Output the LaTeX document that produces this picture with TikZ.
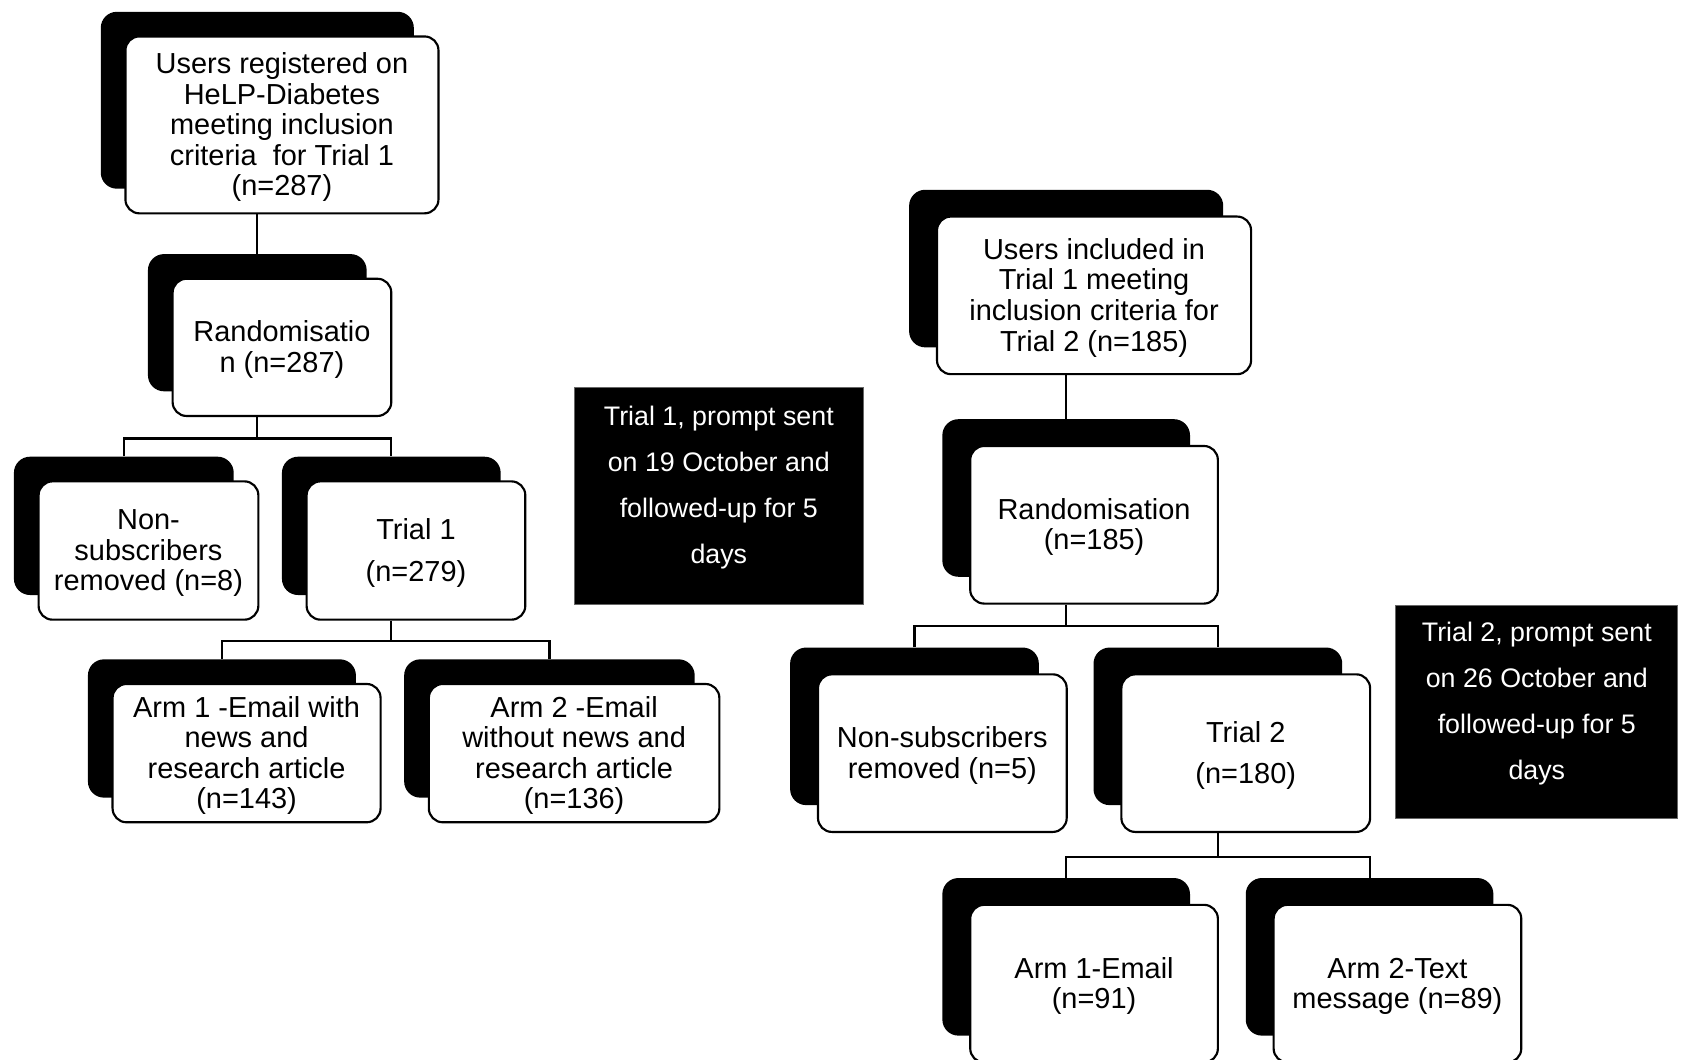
\documentclass[tikz,border=0pt]{standalone}
\usepackage{fontspec}
\setmainfont{Liberation Sans}
% card with a black backing card behind it, offset up and to the left
% #1 name, #2 cx, #3 cy, #4 width, #5 height, #6 dx, #7 dy, #8 text
\newcommand{\cardpair}[8]{%
  \node[backing, minimum width=#4pt, minimum height=#5pt] (#1S) at (#2-#6, #3-#7) {};
  \node[card, minimum width=#4pt, minimum height=#5pt] (#1) at (#2,#3)
    {\raisebox{-3.5pt}[\height][\depth]{\begin{tabular}{@{}c@{}}#8\end{tabular}}};
}
\begin{document}
\begin{tikzpicture}[x=1pt,y=-1pt,
  card/.style={draw=black, fill=white, line width=2pt, rounded corners=13pt,
    inner sep=0pt, font=\fontsize{27}{28.5}\selectfont},
  backing/.style={fill=black, rounded corners=15pt, inner sep=0pt},
  note/.style={fill=black, draw=black!60, line width=0.8pt, inner sep=0pt},
  notetext/.style={text=white, align=center, inner sep=0pt,
    font=\fontsize{25}{43}\selectfont},
  link/.style={draw=black, line width=2pt}]
\useasboundingbox (0,0) rectangle (1568,988);
\clip (0,0) rectangle (1568,988);
\renewcommand{\arraystretch}{1}
\setlength{\tabcolsep}{0pt}

% Trial 1 column
\cardpair{top}{263}{116.5}{292}{165}{23}{23}{Users registered on\\HeLP-Diabetes\\meeting inclusion\\criteria\ \ for Trial 1\\(n=287)}
\cardpair{rand}{263}{324}{204}{128}{23}{23}{Randomisatio\\n (n=287)}
\cardpair{nsa}{138.5}{513.5}{205}{129}{23}{23}{Non-\\subscribers\\removed (n=8)}
\cardpair{tra}{388}{513.5}{204}{129}{23}{23}{Trial 1\\[10.5pt](n=279)}
\cardpair{aa}{230}{702.5}{250}{129}{23}{23}{Arm 1 -Email with\\news and\\research article\\(n=143)}
\cardpair{ab}{535.5}{702.5}{271}{129}{23}{23}{Arm 2 -Email\\without news and\\research article\\(n=136)}

% Trial 2 column
\cardpair{topb}{1020.5}{275.5}{293}{147}{26}{25}{Users included in\\Trial 1 meeting\\inclusion criteria for\\Trial 2 (n=185)}
\cardpair{randb}{1020.5}{489.5}{231}{147}{26}{25}{Randomisation\\(n=185)}
\cardpair{nsb}{879}{702.5}{232}{147}{26}{25}{Non-subscribers\\removed (n=5)}
\cardpair{trb}{1162}{702.5}{232}{147}{26}{25}{Trial 2\\[10.5pt](n=180)}
\cardpair{ba}{1020.5}{917.5}{231}{147}{26}{25}{Arm 1-Email\\(n=91)}
\cardpair{bb}{1303.5}{917.5}{231}{147}{26}{25}{Arm 2-Text\\message (n=89)}

% timing notes
\node[note, minimum width=269pt, minimum height=203pt] (noteA) at (670.5,462.5) {};
\node[notetext] (noteAtxt) at ([yshift=8pt]noteA.center) {Trial 1, prompt sent\\on 19 October and\\followed-up for 5\\days};
\node[note, minimum width=263pt, minimum height=198pt] (noteB) at (1433.5,664) {};
\node[notetext] (noteBtxt) at ([yshift=7.5pt]noteB.center) {Trial 2, prompt sent\\on 26 October and\\followed-up for 5\\days};

% connectors, Trial 1
\draw[link] (topS.center |- top.south) -- (randS.north);
\draw[link] (randS.center |- rand.south) -- ++(0,20) coordinate (ja);
\draw[link] (nsaS.north) |- (ja) -| (traS.north);
\draw[link] (traS.center |- tra.south) -- ++(0,19) coordinate (jb);
\draw[link] (aaS.north) |- (jb) -| (abS.north);

% connectors, Trial 2
\draw[link] (topbS.center |- topb.south) -- (randbS.north);
\draw[link] (randbS.center |- randb.south) -- ++(0,20) coordinate (jc);
\draw[link] (nsbS.north) |- (jc) -| (trbS.north);
\draw[link] (trbS.center |- trb.south) -- ++(0,22) coordinate (jd);
\draw[link] (baS.north) |- (jd) -| (bbS.north);
\end{tikzpicture}
\end{document}
